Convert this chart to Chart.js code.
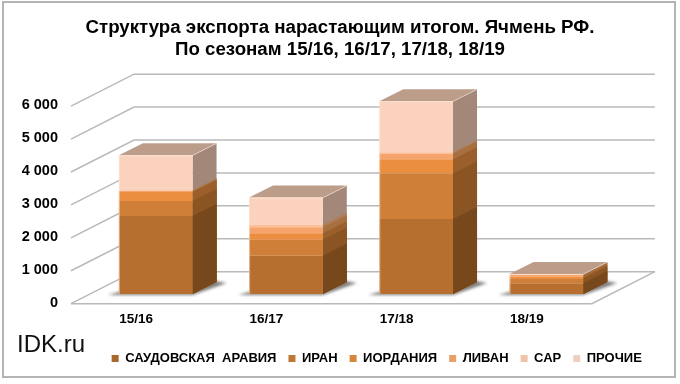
<!DOCTYPE html>
<html><head><meta charset="utf-8">
<style>
html,body{margin:0;padding:0;background:#fff;}
#wrap{position:relative;width:680px;height:384px;overflow:hidden;}
#frame{position:absolute;left:2px;top:1px;width:670px;height:373px;border:2px solid #b4b4b4;pointer-events:none;}
#brand{position:absolute;left:17px;top:330px;font:24px "Liberation Sans",Arial,sans-serif;color:#111;}
</style>
<script src="https://cdn.jsdelivr.net/npm/chart.js@4"></script>
</head><body>
<div id="wrap"><canvas id="c" width="680" height="384"></canvas><div id="frame"></div><div id="brand">IDK.ru</div></div>
<script>
const categories = ['15/16','16/17','17/18','18/19'];
const titleLines = ['Структура экспорта нарастающим итогом. Ячмень РФ.','По сезонам 15/16, 16/17, 17/18, 18/19'];
const saudi   = [2366,1158,2274,323];
const iran    = [457,488,1385,134];
const jordan  = [275,202,436,70];
const lebanon = [30,182,173,61];
const sar     = [20,83,40,12];
const other   = [1068,814,1546,10];
const seriesNames = ['САУДОВСКАЯ  АРАВИЯ','ИРАН','ИОРДАНИЯ','ЛИВАН','САР','ПРОЧИЕ'];
const yTicks = [0,1000,2000,3000,4000,5000,6000];
const frontColors = ['#b76f2f','#cf7f37','#ec8e40','#f6a36c','#fbc09b','#fbd2be'];
const sideColors  = ['#76481c','#8a5423','#9a5f2a','#a86f40','#ae7e58','#a38779'];
const topColor = '#bc9d8a';
const legendColors = ['#a8672d','#bd7834','#d6873b','#e8a06a','#efc3a8','#efcfc2'];
const allSeries = [saudi,iran,jordan,lebanon,sar,other];

const DX = 24, DY = 12;              // bar depth
const FX = -19.6, FY = 9.7;          // bar plane -> front of floor
const BX = 43.4, BY = -22.3;         // bar plane -> back wall

function poly(ctx, pts, fill){
  ctx.beginPath();
  pts.forEach((p,i)=> i?ctx.lineTo(p[0],p[1]):ctx.moveTo(p[0],p[1]));
  ctx.closePath(); ctx.fillStyle = fill; ctx.fill();
}
const scene = {
  id:'scene',
  afterLayout(chart){
    const l = chart.legend; l.left += 71; l.right += 71;
    const t = chart.titleBlock; t.left += 34.25; t.right += 34.25;
  },
  beforeDatasetsDraw(chart){
    const ctx = chart.ctx, a = chart.chartArea, ys = chart.scales.y;
    ctx.save();
    ctx.strokeStyle = '#b9b9b9'; ctx.lineWidth = 1.5;
    yTicks.forEach(v=>{
      const y = ys.getPixelForValue(v);
      ctx.beginPath();
      ctx.moveTo(a.left+FX, y+FY);
      ctx.lineTo(a.left+BX, y+BY);
      ctx.lineTo(a.right+BX, y+BY);
      ctx.stroke();
    });
    const y0 = ys.getPixelForValue(0);
    ctx.beginPath();
    ctx.moveTo(a.left+FX, y0+FY);
    ctx.lineTo(a.right+FX, y0+FY);
    ctx.lineTo(a.right+BX, y0+BY);
    ctx.stroke();
    const metas = chart.data.datasets.map((d,i)=>chart.getDatasetMeta(i));
    categories.forEach((c,i)=>{
      const b = metas[0].data[i], xl = b.x-b.width/2, xr = b.x+b.width/2, by = b.base;
      ctx.save();
      ctx.filter = 'blur(1.5px)';
      poly(ctx, [[xl-11,by+1],[xr,by+1],[xr+DX+10,by-DY+1],[xr+DX-2,by-DY-1],[xr,by-2],[xl,by-2]], 'rgba(90,90,90,.8)');
      ctx.restore();
      // paint sides top layer first, each reaching down to the stack base, so no seams show
      for(let s=metas.length-1;s>=0;s--){
        const e = metas[s].data[i];
        poly(ctx, [[xr,by],[xr+DX,by-DY],[xr+DX,e.y-DY],[xr,e.y]], sideColors[s]);
      }
      const t = metas[metas.length-1].data[i];
      poly(ctx, [[xl,t.y],[xl+DX,t.y-DY],[xr+DX,t.y-DY],[xr,t.y]], topColor);
    });
    ctx.restore();
  },
  afterDatasetsDraw(chart){
    const ctx = chart.ctx;
    const metas = chart.data.datasets.map((d,i)=>chart.getDatasetMeta(i));
    ctx.save();
    categories.forEach((c,i)=>{
      const b = metas[0].data[i], t = metas[metas.length-1].data[i];
      const xl = b.x-b.width/2, xr = b.x+b.width/2;
      ctx.strokeStyle = 'rgba(255,235,220,.55)'; ctx.lineWidth = 1;
      ctx.beginPath();
      ctx.moveTo(xl+.5,b.base); ctx.lineTo(xl+.5,t.y+.5); ctx.lineTo(xr-.5,t.y+.5); ctx.lineTo(xr+DX-.5,t.y-DY+.5);
      ctx.stroke();
    });
    ctx.restore();
  }
};

new Chart(document.getElementById('c'),{
  type:'bar',
  data:{labels:categories,datasets:allSeries.map((d,i)=>({
    label:seriesNames[i],data:d,backgroundColor:frontColors[i],borderWidth:0,
    categoryPercentage:1,barPercentage:0.566
  }))},
  options:{
    responsive:false,animation:false,
    layout:{padding:{left:0,right:68.5,top:17,bottom:9}},
    plugins:{
      title:{display:true,text:titleLines,color:'#000',
        font:{family:'"Liberation Sans",Arial,sans-serif',size:18.7,weight:'bold',lineHeight:1.18},
        padding:{top:0,bottom:35.3}},
      legend:{display:true,position:'bottom',
        labels:{color:'#000',boxWidth:7,boxHeight:7,padding:12,
          font:{family:'"Liberation Sans",Arial,sans-serif',size:13,weight:'bold'},
          generateLabels(chart){
            return seriesNames.map((n,i)=>({text:n,fillStyle:legendColors[i],strokeStyle:legendColors[i],lineWidth:0,datasetIndex:i,hidden:false}));
          }}},
      tooltip:{enabled:false}
    },
    scales:{
      x:{stacked:true,grid:{display:false},border:{display:false},
        afterFit(s){s.height=46;},
        ticks:{labelOffset:-19.6,padding:9,color:'#000',maxRotation:0,
          font:{family:'"Liberation Sans",Arial,sans-serif',size:13.5,weight:'bold'}}},
      y:{stacked:true,min:0,max:6000,grid:{display:false},border:{display:false},
        afterFit(s){s.width=90.6;},
        afterBuildTicks(s){s.ticks=yTicks.map(v=>({value:v}));},
        ticks:{labelOffset:8.5,padding:24.6,color:'#000',
          font:{family:'"Liberation Sans",Arial,sans-serif',size:14.5,weight:'bold'},
          callback:v=>String(v).replace(/\B(?=(\d{3})+$)/g,' ')}}
    }
  },
  plugins:[scene]
});
</script>
</body></html>
